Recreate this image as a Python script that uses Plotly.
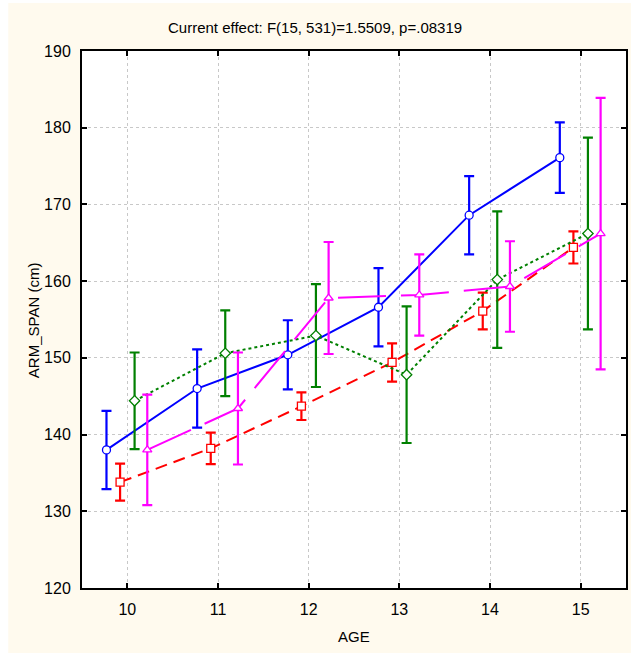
import plotly.graph_objects as go

ages = [10, 11, 12, 13, 14, 15]
x_ticks = [10, 11, 12, 13, 14, 15]
y_ticks = [120, 130, 140, 150, 160, 170, 180, 190]

# series (group means and half-widths of confidence intervals)
blue_mean = [138.0, 146.0, 150.4, 156.6, 168.6, 176.1]
blue_err = [5.1, 5.1, 4.5, 5.1, 5.1, 4.6]
red_mean = [133.8, 138.2, 143.7, 149.4, 156.1, 164.4]
red_err = [2.4, 2.05, 1.8, 2.5, 2.4, 2.1]
green_mean = [144.4, 150.6, 152.9, 147.8, 160.2, 166.2]
green_err = [6.3, 5.6, 6.7, 8.9, 8.9, 12.5]
magenta_mean = [138.0, 143.4, 157.8, 158.2, 159.3, 166.2]
magenta_err = [7.2, 7.3, 7.3, 5.3, 5.9, 17.7]

offsets = [-0.23, -0.08, 0.08, 0.22]
series = [
    (blue_mean, blue_err, "#0000FF", "solid", "circle"),
    (red_mean, red_err, "#FF0000", "12px,7px", "square"),
    (green_mean, green_err, "#008000", "3px,3px", "diamond"),
    (magenta_mean, magenta_err, "#FF00FF", "48px,15px", "triangle-up"),
]

CREAM = "#FFFAEE"
FONT = "Liberation Sans Narrow, Arial Narrow, Liberation Sans, Arial, sans-serif"

fig = go.Figure()
for (m, e, col, dash, sym), off in zip(series, offsets):
    xs = [a + off for a in ages]
    fig.add_trace(go.Scatter(
        x=xs, y=m, mode="lines+markers",
        line=dict(color=col, width=2, dash=dash),
        marker=dict(symbol=sym, size=8, color="white", line=dict(color=col, width=1.3)),
        error_y=dict(type="data", array=e, visible=True, color=col, thickness=2.2, width=5),
        showlegend=False,
    ))

W, H = 631, 654
l, r, t, b = 82, 3, 51, 66
pw, ph = W - l - r, H - t - b

def px2x(p):
    return (p - l) / pw

def py2y(p):
    return (H - b - p) / ph

fig.add_shape(type="rect", xref="paper", yref="paper",
              x0=px2x(8), x1=px2x(W + 5), y0=py2y(653), y1=py2y(3),
              fillcolor=CREAM, line=dict(width=0), layer="below")
fig.add_shape(type="rect", xref="paper", yref="paper",
              x0=0, x1=1, y0=0, y1=1,
              fillcolor="white", line=dict(width=0), layer="below")

fig.update_layout(
    width=W, height=H,
    margin=dict(l=l, r=r, t=t, b=b),
    paper_bgcolor="white", plot_bgcolor="white",
    font=dict(family=FONT, size=16, color="black"),
    xaxis=dict(range=[9.5, 15.5], tickvals=x_ticks, ticktext=[str(v) for v in x_ticks],
               showgrid=True, gridcolor="#C8C8C8", griddash="dot", gridwidth=1,
               showline=True, linecolor="black", linewidth=2, mirror="ticks",
               ticks="inside", ticklen=5, tickwidth=2, tickcolor="black",
               zeroline=False, ticklabelstandoff=6),
    yaxis=dict(range=[120, 190], tickvals=y_ticks, ticktext=[str(v) for v in y_ticks],
               showgrid=True, gridcolor="#C8C8C8", griddash="dot", gridwidth=1,
               showline=True, linecolor="black", linewidth=2, mirror="ticks",
               ticks="inside", ticklen=5, tickwidth=2, tickcolor="black",
               zeroline=False, ticklabelstandoff=6),
    annotations=[
        dict(text="Current effect: F(15, 531)=1.5509, p=.08319", xref="paper", yref="paper",
             x=px2x(W / 2), y=py2y(27), showarrow=False, xanchor="center", yanchor="middle",
             font=dict(size=15)),
        dict(text="AGE", xref="paper", yref="paper", x=px2x(355), y=py2y(636),
             showarrow=False, xanchor="center", yanchor="middle", font=dict(size=15)),
        dict(text="ARM_SPAN (cm)", xref="paper", yref="paper", x=px2x(33), y=py2y(320),
             showarrow=False, xanchor="center", yanchor="middle", textangle=-90,
             font=dict(size=15)),
    ],
)

fig.write_html(
    "out.html",
    config={"displayModeBar": False},
    post_script="document.body.style.margin='0';document.body.style.overflow='hidden';",
)
